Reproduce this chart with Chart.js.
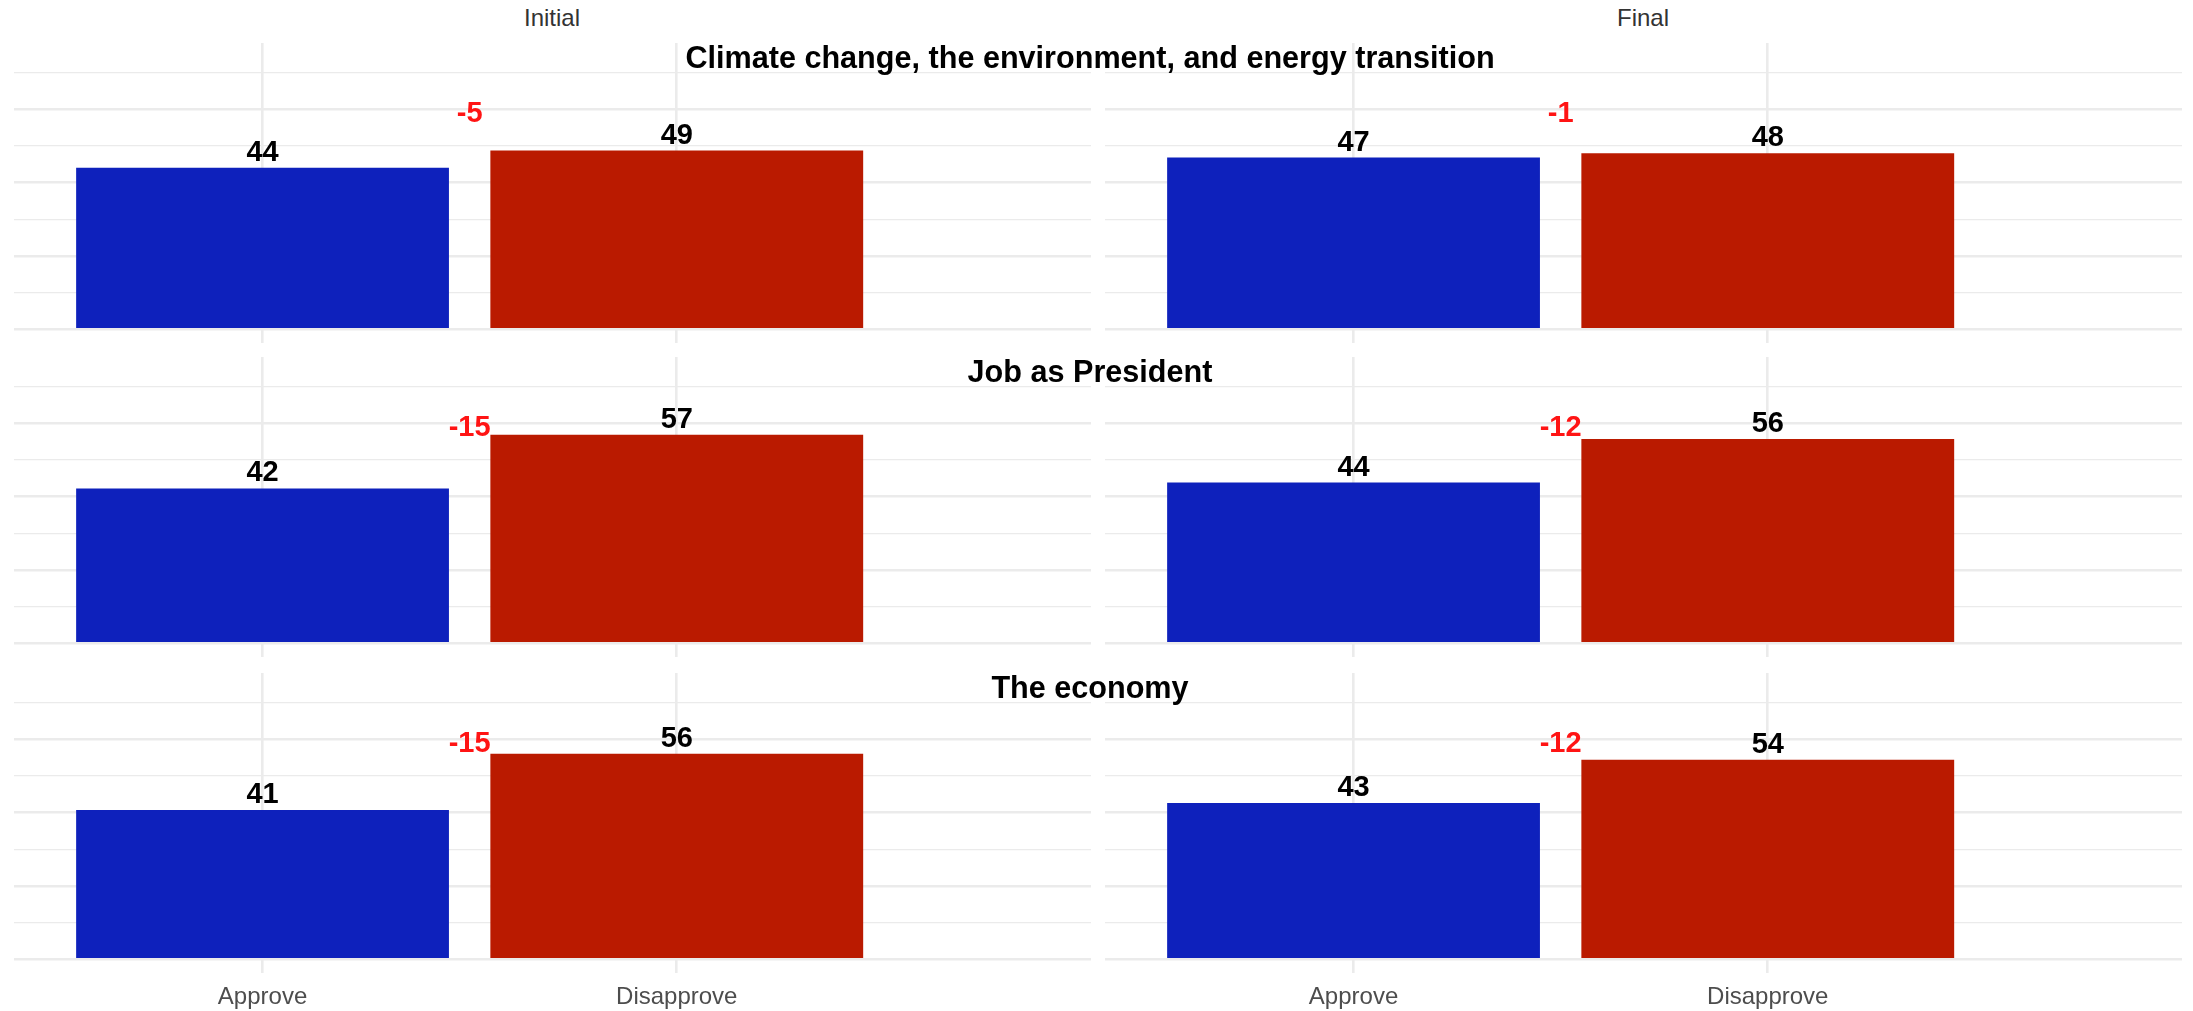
<!DOCTYPE html>
<html>
<head>
<meta charset="utf-8">
<script src="https://cdn.jsdelivr.net/npm/chart.js@4.4.1/dist/chart.umd.min.js"></script>
<style>
  html, body { margin: 0; padding: 0; background: #ffffff; width: 2193px; height: 1011px; overflow: hidden;
    font-family: "Liberation Sans", Arial, Helvetica, sans-serif; }
  .panel { position: absolute; }
  .panel canvas { display: block; }
  .strip { position: absolute; top: 6px; width: 400px; text-align: center; font-size: 24px; line-height: 24px; color: #333333; }
  .topic { position: absolute; left: 0; width: 2180px; text-align: center; font-weight: bold; font-size: 30.6px;
    line-height: 31px; color: #000000; z-index: 5; white-space: nowrap; }
</style>
</head>
<body>
<div id="root"></div>
<script>
// ---- data ----
const waves = ['Initial', 'Final'];
const responses = ['Approve', 'Disapprove'];
const topics = ['Climate change, the environment, and energy transition', 'Job as President', 'The economy'];
const approveInitial = [44.0, 42.2, 40.7];
const disapproveInitial = [48.7, 56.8, 56.0];
const approveFinal = [46.8, 43.8, 42.6];
const disapproveFinal = [48.0, 55.7, 54.4];
const netInitial = [-5, -15, -15];
const netFinal = [-1, -12, -12];
const gridValues = [0, 10, 20, 30, 40, 50, 60, 70];
const responseColors = ['#0E21BC', '#BA1A00'];

// ---- layout ----
const LAYOUT = {
  colX: [14, 1105], rowY: [43, 357, 673], panelW: 1077, panelH: 300, axisH: 48,
  xMin: 0.4, xMax: 3.0, yMin: -3.7, yMax: 78, netX: 1.5, netY: 56.5,
  stripCenters: [552, 1643]
};
const FONT = '"Liberation Sans", Arial, Helvetica, sans-serif';

const root = document.getElementById('root');

waves.forEach((w, wi) => {
  const s = document.createElement('div');
  s.className = 'strip';
  s.style.left = (LAYOUT.stripCenters[wi] - 200) + 'px';
  s.textContent = w;
  root.appendChild(s);
});

topics.forEach((t, ti) => {
  const d = document.createElement('div');
  d.className = 'topic';
  d.style.top = (LAYOUT.rowY[ti] - 1) + 'px';
  d.textContent = t;
  root.appendChild(d);
});

function makeLabelPlugin(net) {
  return {
    id: 'valueLabels',
    afterDatasetsDraw(chart) {
      const ctx = chart.ctx;
      const meta = chart.getDatasetMeta(0);
      const ds = chart.data.datasets[0];
      ctx.save();
      ctx.font = 'bold 29px ' + FONT;
      ctx.textAlign = 'center';
      ctx.textBaseline = 'alphabetic';
      ctx.fillStyle = '#000000';
      meta.data.forEach((bar, i) => {
        ctx.fillText(String(Math.round(ds.data[i].y)), bar.x, bar.y - 7);
      });
      ctx.fillStyle = '#FF1414';
      ctx.fillText(String(net), chart.scales.x.getPixelForValue(LAYOUT.netX), chart.scales.y.getPixelForValue(LAYOUT.netY));
      ctx.restore();
    }
  };
}

const seriesByWave = [
  { approve: approveInitial, disapprove: disapproveInitial, net: netInitial },
  { approve: approveFinal, disapprove: disapproveFinal, net: netFinal }
];

topics.forEach((t, ti) => {
  waves.forEach((w, wi) => {
    const isBottom = ti === topics.length - 1;
    const holder = document.createElement('div');
    holder.className = 'panel';
    holder.style.left = LAYOUT.colX[wi] + 'px';
    holder.style.top = LAYOUT.rowY[ti] + 'px';
    const canvas = document.createElement('canvas');
    const h = LAYOUT.panelH + (isBottom ? LAYOUT.axisH : 0);
    canvas.width = LAYOUT.panelW;
    canvas.height = h;
    canvas.style.width = LAYOUT.panelW + 'px';
    canvas.style.height = h + 'px';
    holder.appendChild(canvas);
    root.appendChild(holder);

    const src = seriesByWave[wi];
    const vals = [src.approve[ti], src.disapprove[ti]];

    new Chart(canvas, {
      type: 'bar',
      data: {
        datasets: [{
          data: responses.map((r, i) => ({ x: i + 1, y: vals[i] })),
          backgroundColor: responseColors,
          borderWidth: 0,
          barPercentage: 0.9,
          categoryPercentage: 1.0
        }]
      },
      options: {
        responsive: false,
        animation: false,
        devicePixelRatio: 1,
        events: [],
        layout: { padding: 0 },
        plugins: { legend: { display: false }, tooltip: { enabled: false }, title: { display: false } },
        scales: {
          x: {
            type: 'linear', min: LAYOUT.xMin, max: LAYOUT.xMax, offset: false,
            afterBuildTicks: (s) => { s.ticks = responses.map((r, i) => ({ value: i + 1 })); },
            grid: { color: '#EBEBEB', lineWidth: 2.6, drawTicks: false, offset: false },
            border: { display: false },
            ticks: {
              display: isBottom, padding: 9, color: '#4D4D4D', autoSkip: false, maxRotation: 0,
              font: { family: FONT, size: 24, lineHeight: 1.25 },
              callback: (v) => responses[Math.round(v) - 1] || ''
            }
          },
          y: {
            type: 'linear', min: LAYOUT.yMin, max: LAYOUT.yMax,
            afterBuildTicks: (s) => { s.ticks = gridValues.map(v => ({ value: v })); },
            grid: {
              color: '#EBEBEB', drawTicks: false,
              lineWidth: (c) => (c.tick && c.tick.value % 20 === 0) ? 2.6 : 1.3
            },
            border: { display: false },
            ticks: { display: false }
          }
        }
      },
      plugins: [makeLabelPlugin(src.net[ti])]
    });
  });
});
</script>
</body>
</html>
